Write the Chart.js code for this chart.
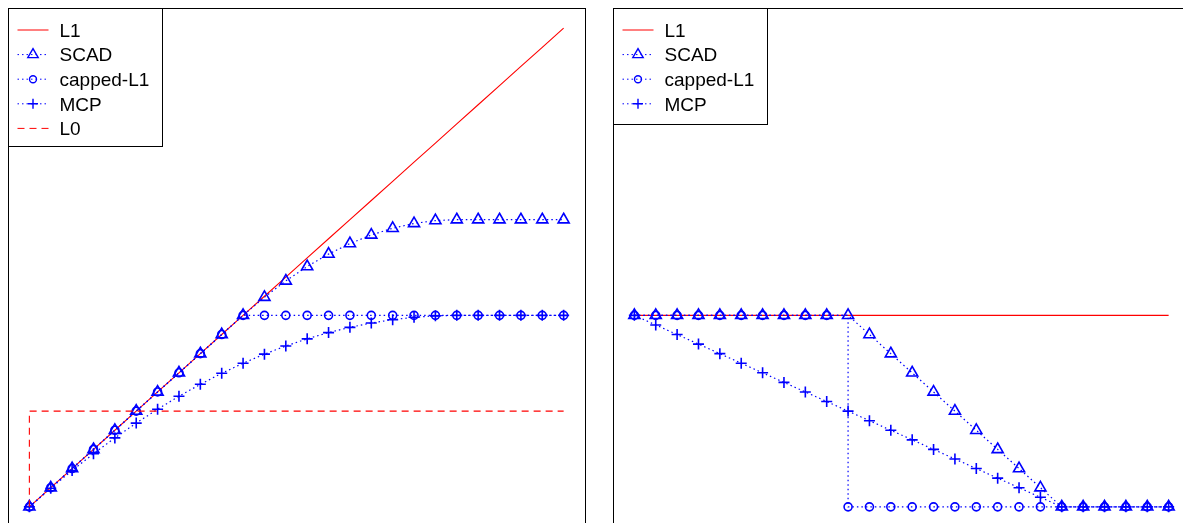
<!DOCTYPE html>
<html>
<head>
<meta charset="utf-8">
<script src="https://cdn.jsdelivr.net/npm/chart.js@4.4.1/dist/chart.umd.min.js"></script>
<style>
  html, body { margin: 0; padding: 0; background: #fff; overflow: hidden; width: 1183px; height: 523px; }
  .panel { position: absolute; top: 0; }
  #penalty { left: 0; }
  #deriv { left: 600px; }
</style>
</head>
<body>
<canvas id="penalty" class="panel" width="600" height="545"></canvas>
<canvas id="deriv" class="panel" width="600" height="545"></canvas>
<script>
// grid of |t| values shared by both panels
const tGrid = [0, 0.1, 0.2, 0.3, 0.4, 0.5, 0.6, 0.7, 0.8, 0.9, 1, 1.1, 1.2, 1.3, 1.4, 1.5, 1.6, 1.7, 1.8, 1.9, 2, 2.1, 2.2, 2.3, 2.4, 2.5];

// left panel: penalty values
const l1Pen = [0, 0.1, 0.2, 0.3, 0.4, 0.5, 0.6, 0.7, 0.8, 0.9, 1, 1.1, 1.2, 1.3, 1.4, 1.5, 1.6, 1.7, 1.8, 1.9, 2, 2.1, 2.2, 2.3, 2.4, 2.5];
const scadPen = [0, 0.1, 0.2, 0.3, 0.4, 0.5, 0.6, 0.7, 0.8, 0.9, 1, 1.095, 1.18, 1.255, 1.32, 1.375, 1.42, 1.455, 1.48, 1.495, 1.5, 1.5, 1.5, 1.5, 1.5, 1.5];
const cappedPen = [0, 0.1, 0.2, 0.3, 0.4, 0.5, 0.6, 0.7, 0.8, 0.9, 1, 1, 1, 1, 1, 1, 1, 1, 1, 1, 1, 1, 1, 1, 1, 1];
const mcpPen = [0, 0.0975, 0.19, 0.2775, 0.36, 0.4375, 0.51, 0.5775, 0.64, 0.6975, 0.75, 0.7975, 0.84, 0.8775, 0.91, 0.9375, 0.96, 0.9775, 0.99, 0.9975, 1, 1, 1, 1, 1, 1];
const l0Pen = [0, 0.5, 0.5, 0.5, 0.5, 0.5, 0.5, 0.5, 0.5, 0.5, 0.5, 0.5, 0.5, 0.5, 0.5, 0.5, 0.5, 0.5, 0.5, 0.5, 0.5, 0.5, 0.5, 0.5, 0.5, 0.5];

// right panel: derivatives
const l1Deriv = [1, 1, 1, 1, 1, 1, 1, 1, 1, 1, 1, 1, 1, 1, 1, 1, 1, 1, 1, 1, 1, 1, 1, 1, 1, 1];
const scadDeriv = [1, 1, 1, 1, 1, 1, 1, 1, 1, 1, 1, 0.9, 0.8, 0.7, 0.6, 0.5, 0.4, 0.3, 0.2, 0.1, 0, 0, 0, 0, 0, 0];
const cappedDeriv = [1, 1, 1, 1, 1, 1, 1, 1, 1, 1, 0, 0, 0, 0, 0, 0, 0, 0, 0, 0, 0, 0, 0, 0, 0, 0];
const mcpDeriv = [1, 0.95, 0.9, 0.85, 0.8, 0.75, 0.7, 0.65, 0.6, 0.55, 0.5, 0.45, 0.4, 0.35, 0.3, 0.25, 0.2, 0.15, 0.1, 0.05, 0, 0, 0, 0, 0, 0];

const RED = '#ff0000';
const BLUE = '#0000ff';
const DOT = [1.5, 3];
const DASH = [7, 5];

const pts = (ys) => ys.map((y, i) => ({ x: tGrid[i], y: y }));

function solidLine(label, ys, order) {
  return { label, data: pts(ys), borderColor: RED, borderWidth: 1.1, pointRadius: 0, order };
}
function dottedMarks(label, ys, style, radius, order, extra) {
  return Object.assign({
    label, data: pts(ys), borderColor: BLUE, borderWidth: 1.2, borderDash: DOT,
    pointStyle: style, pointRadius: radius, pointBorderColor: BLUE,
    pointBackgroundColor: 'rgba(0,0,0,0)', pointBorderWidth: 1.6, order
  }, extra || {});
}

function drawMarker(ctx, style, x, y, r) {
  ctx.beginPath();
  if (style === 'triangle') {
    ctx.moveTo(x, y - r);
    ctx.lineTo(x + r * 0.866, y + r / 2);
    ctx.lineTo(x - r * 0.866, y + r / 2);
    ctx.closePath();
  } else if (style === 'circle') {
    ctx.arc(x, y, r, 0, Math.PI * 2);
  } else if (style === 'cross') {
    ctx.moveTo(x - r, y); ctx.lineTo(x + r, y);
    ctx.moveTo(x, y - r); ctx.lineTo(x, y + r);
  }
  ctx.stroke();
}

// plot frame + R-style legend in the top-left corner
const frameLegend = {
  id: 'frameLegend',
  afterDraw(chart, args, opts) {
    const ctx = chart.ctx;
    const a = chart.chartArea;
    const bx = Math.round(a.left) + 0.5;
    const by = Math.round(a.top) - 0.5;
    ctx.save();
    ctx.setLineDash([]);
    ctx.strokeStyle = '#000';
    ctx.lineWidth = 1;
    ctx.strokeRect(bx, by, Math.round(a.right - a.left), Math.round(a.bottom - a.top));

    ctx.fillStyle = '#fff';
    ctx.fillRect(bx, by, 154, opts.height);
    ctx.strokeRect(bx, by, 154, opts.height);

    opts.items.forEach((it, i) => {
      const y = by + 21.5 + i * 24.6;
      ctx.strokeStyle = it.color;
      ctx.lineWidth = 1;
      ctx.setLineDash(it.dash);
      ctx.beginPath();
      ctx.moveTo(bx + 9, y);
      ctx.lineTo(bx + 40, y);
      ctx.stroke();
      ctx.setLineDash([]);
      if (it.marker) {
        ctx.lineWidth = 1.4;
        drawMarker(ctx, it.marker, bx + 24.5, y, it.size);
      }
      ctx.fillStyle = '#000';
      ctx.font = '19px "Liberation Sans", Arial, sans-serif';
      ctx.textBaseline = 'alphabetic';
      ctx.fillText(it.label, bx + 51, y + 6.8);
    });
    ctx.restore();
  }
};

function panelOptions(pad, legendItems, legendHeight) {
  return {
    responsive: false,
    animation: false,
    layout: { padding: pad },
    scales: {
      x: { type: 'linear', min: -0.1, max: 2.6, display: false },
      y: { type: 'linear', min: -0.1, max: 2.6, display: false }
    },
    plugins: {
      legend: { display: false },
      tooltip: { enabled: false },
      frameLegend: { items: legendItems, height: legendHeight }
    }
  };
}

const legendL1 = { label: 'L1', color: RED, dash: [] };
const legendSCAD = { label: 'SCAD', color: BLUE, dash: DOT, marker: 'triangle', size: 6 };
const legendCapped = { label: 'capped-L1', color: BLUE, dash: DOT, marker: 'circle', size: 3.5 };
const legendMCP = { label: 'MCP', color: BLUE, dash: DOT, marker: 'cross', size: 5 };
const legendL0 = { label: 'L0', color: RED, dash: DASH };

new Chart(document.getElementById('penalty'), {
  type: 'line',
  data: {
    datasets: [
      solidLine('L1', l1Pen, 5),
      dottedMarks('SCAD', scadPen, 'triangle', 6.4, 4),
      dottedMarks('capped-L1', cappedPen, 'circle', 4, 3),
      dottedMarks('MCP', mcpPen, 'cross', 5.5, 2),
      { label: 'L0', data: pts(l0Pen), borderColor: RED, borderWidth: 1.1, borderDash: DASH,
        pointRadius: 0, stepped: 'after', order: 1 }
    ]
  },
  options: panelOptions({ left: 8, top: 9, right: 15, bottom: 19 },
    [legendL1, legendSCAD, legendCapped, legendMCP, legendL0], 138),
  plugins: [frameLegend]
});

new Chart(document.getElementById('deriv'), {
  type: 'line',
  data: {
    datasets: [
      solidLine('L1', l1Deriv, 5),
      dottedMarks('SCAD', scadDeriv, 'triangle', 6.4, 4),
      dottedMarks('capped-L1', cappedDeriv, 'circle', 4, 3, { stepped: true }),
      dottedMarks('MCP', mcpDeriv, 'cross', 5.5, 2)
    ]
  },
  options: panelOptions({ left: 13, top: 9, right: 10, bottom: 19 },
    [legendL1, legendSCAD, legendCapped, legendMCP], 116),
  plugins: [frameLegend]
});
</script>
</body>
</html>
